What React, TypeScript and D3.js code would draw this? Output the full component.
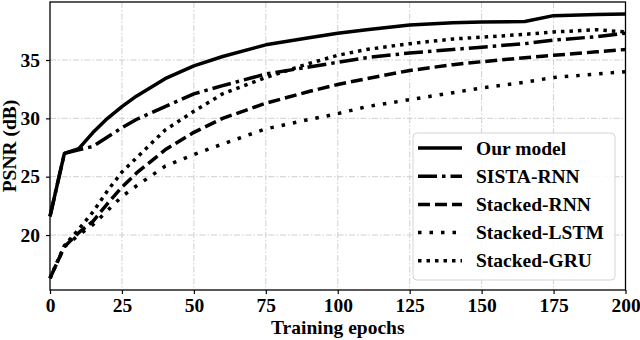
import * as d3 from "d3";
import React, { useEffect, useRef } from "react";

const epochs = [0, 5, 10, 15, 20, 25, 30, 40, 50, 60, 75, 90, 100, 110, 125, 140, 150, 165, 175, 190, 200];

const ourModel = [21.6, 27.0, 27.4, 28.8, 30.0, 31.0, 31.9, 33.4, 34.5, 35.3, 36.3, 36.9, 37.3, 37.6, 38.0, 38.2, 38.25, 38.3, 38.8, 38.9, 38.95];
const sistaRnn = [21.6, 27.0, 27.3, 27.6, 28.4, 29.2, 29.9, 31.0, 32.1, 32.8, 33.8, 34.4, 34.8, 35.2, 35.6, 35.9, 36.1, 36.4, 36.7, 37.0, 37.3];
const stackedRnn = [16.3, 19.0, 20.2, 21.2, 22.7, 24.1, 25.3, 27.3, 28.8, 30.0, 31.3, 32.3, 32.9, 33.4, 34.1, 34.6, 34.85, 35.2, 35.4, 35.7, 35.9];
const stackedLstm = [16.3, 19.0, 20.0, 20.9, 22.1, 23.3, 24.2, 25.9, 26.9, 27.8, 29.1, 29.9, 30.4, 31.0, 31.6, 32.2, 32.6, 33.1, 33.5, 33.8, 34.0];
const stackedGru = [16.3, 19.1, 20.5, 22.0, 23.8, 25.4, 26.6, 29.0, 30.6, 32.1, 33.5, 34.7, 35.4, 35.9, 36.4, 36.8, 36.95, 37.2, 37.4, 37.6, 37.4];

const seriesNames = ["Our model", "SISTA-RNN", "Stacked-RNN", "Stacked-LSTM", "Stacked-GRU"];
const seriesValues = [ourModel, sistaRnn, stackedRnn, stackedLstm, stackedGru];
const dashes = ["none", "19,5,3.5,5", "12,5", "3.5,8", "3.5,5"];

const xTicks = [0, 25, 50, 75, 100, 125, 150, 175, 200];
const yTicks = [20, 25, 30, 35];

const FONT = "Liberation Serif, Times New Roman, Times, DejaVu Serif, serif";

const App = () => {
  const svgRef = useRef(null);

  const renderSVG = () => {
    const width = 640;
    const height = 340;
    const plot = { left: 50, right: 625.5, top: 2, bottom: 290 };

    const x = d3.scaleLinear([0, 200], [plot.left, plot.right]);
    const y = d3.scaleLinear([15.29, 39.97], [plot.bottom, plot.top]);

    svgRef.current.innerHTML = "";
    const svg = d3
      .select(svgRef.current)
      .attr("width", width)
      .attr("height", height)
      .attr("viewBox", [0, 0, width, height])
      .style("font-family", FONT);

    svg.append("rect").attr("width", width).attr("height", height).attr("fill", "#fff");

    // grid
    const grid = svg.append("g").attr("stroke", "#cfcfcf").attr("stroke-width", 1).attr("stroke-dasharray", "6,2,1.5,2");
    grid
      .selectAll(".gx")
      .data(xTicks.slice(1, -1))
      .join("line")
      .attr("x1", (d) => x(d))
      .attr("x2", (d) => x(d))
      .attr("y1", plot.top)
      .attr("y2", plot.bottom);
    grid
      .selectAll(".gy")
      .data(yTicks)
      .join("line")
      .attr("x1", plot.left)
      .attr("x2", plot.right)
      .attr("y1", (d) => y(d))
      .attr("y2", (d) => y(d));

    const styleTicks = (g) => {
      g.attr("font-family", null);
      g.select(".domain").remove();
      g.selectAll(".tick line").attr("stroke", "#000").attr("stroke-width", 1.2);
      g.selectAll(".tick text")
        .style("font-family", FONT)
        .attr("font-weight", "bold")
        .attr("font-size", 19.5)
        .attr("fill", "#000");
    };

    // axes
    svg
      .append("g")
      .attr("transform", `translate(0, ${plot.bottom})`)
      .call(d3.axisBottom(x).tickValues(xTicks).tickSize(4).tickSizeOuter(0).tickPadding(4))
      .call(styleTicks);

    svg
      .append("g")
      .attr("transform", `translate(${plot.left}, 0)`)
      .call(d3.axisLeft(y).tickValues(yTicks).tickSize(4).tickSizeOuter(0).tickPadding(6))
      .call(styleTicks);

    // lines
    const line = d3
      .line()
      .x((d) => x(d[0]))
      .y((d) => y(d[1]));

    seriesValues.forEach((vals, i) => {
      svg
        .append("path")
        .datum(epochs.map((e, j) => [e, vals[j]]))
        .attr("fill", "none")
        .attr("stroke", "#000")
        .attr("stroke-width", 3.5)
        .attr("stroke-dasharray", dashes[i])
        .attr("stroke-linejoin", "round")
        .attr("d", line);
    });

    // frame
    svg
      .append("rect")
      .attr("x", plot.left)
      .attr("y", plot.top)
      .attr("width", plot.right - plot.left)
      .attr("height", plot.bottom - plot.top)
      .attr("fill", "none")
      .attr("stroke", "#000")
      .attr("stroke-width", 1.3);

    // legend
    const legend = svg.append("g");
    legend
      .append("rect")
      .attr("x", 413)
      .attr("y", 133)
      .attr("width", 202)
      .attr("height", 147)
      .attr("rx", 4)
      .attr("fill", "#fff")
      .attr("fill-opacity", 0.85)
      .attr("stroke", "#d4d4d4")
      .attr("stroke-width", 1);

    seriesNames.forEach((name, i) => {
      const ly = 148 + i * 28.2;
      legend
        .append("line")
        .attr("x1", 418)
        .attr("x2", 462)
        .attr("y1", ly)
        .attr("y2", ly)
        .attr("stroke", "#000")
        .attr("stroke-width", 3.5)
        .attr("stroke-dasharray", dashes[i]);
      legend
        .append("text")
        .attr("x", 476)
        .attr("y", ly + 6.5)
        .attr("font-weight", "bold")
        .attr("font-size", 19.5)
        .text(name);
    });

    // axis labels
    svg
      .append("text")
      .attr("x", (plot.left + plot.right) / 2)
      .attr("y", 334)
      .attr("text-anchor", "middle")
      .attr("font-weight", "bold")
      .attr("font-size", 19.5)
      .text("Training epochs");

    svg
      .append("text")
      .attr("transform", `translate(16, ${(plot.top + plot.bottom) / 2}) rotate(-90)`)
      .attr("text-anchor", "middle")
      .attr("font-weight", "bold")
      .attr("font-size", 19.5)
      .text("PSNR (dB)");
  };

  useEffect(() => {
    renderSVG();
  });

  return <svg ref={svgRef} style={{ position: "absolute", left: 0, top: 0 }} />;
};

export default App;
